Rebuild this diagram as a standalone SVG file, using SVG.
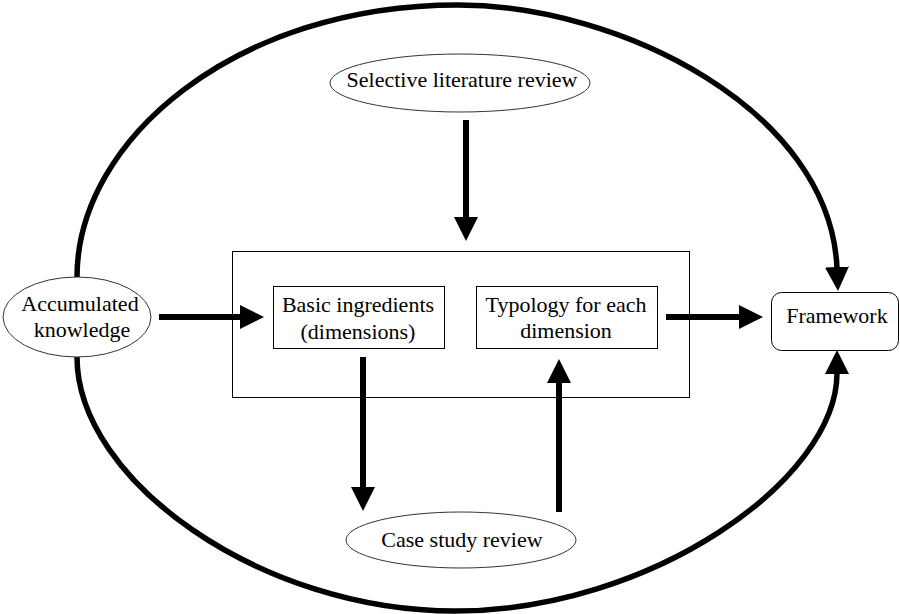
<svg xmlns="http://www.w3.org/2000/svg" width="900" height="614" viewBox="0 0 900 614">
  <style>
    text { font-family: 'Liberation Serif', 'Times New Roman', Times, serif; font-size: 22px; fill: #000; text-anchor: middle; }
    .oval { fill: #fff; stroke: #333; stroke-width: 1; }
    .box { fill: none; stroke: #000; stroke-width: 1; }
    .flow { fill: none; stroke: #000; stroke-width: 6; marker-end: url(#head); }
    .loop { fill: none; stroke: #000; stroke-width: 5.5; marker-end: url(#head); }
  </style>
  <defs>
    <marker id="head" markerUnits="userSpaceOnUse" markerWidth="24" markerHeight="24" viewBox="0 0 24 24" refX="1" refY="12" orient="auto">
      <path d="M0,0 L24,12 L0,24 z" fill="#000"/>
    </marker>
  </defs>

  <rect width="900" height="614" fill="#fff"/>

  <!-- connectors -->
  <g id="connectors">
    <!-- outer loop: knowledge feeds the framework over the top and round the bottom -->
    <path class="loop" d="M77,277 C77,140 235,5 458,5 C620,5 830,110 837,268"/>
    <path class="loop" d="M77,357 C77,480 260,611 455,611 C650,611 837,480 837,373"/>
    <path class="flow" d="M466,120 L466,218"/>
    <path class="flow" d="M159,317 L241,317"/>
    <path class="flow" d="M666,317 L740,317"/>
    <path class="flow" d="M363,357 L363,488"/>
    <path class="flow" d="M559,512 L559,382"/>
  </g>

  <!-- process container -->
  <g id="process">
    <rect class="box" x="232.5" y="251.5" width="457" height="146"/>
  </g>

  <g id="accumulated">
    <ellipse class="oval" cx="77" cy="317" rx="74" ry="40"/>
    <text x="80" y="311">Accumulated</text>
    <text x="82" y="337">knowledge</text>
  </g>

  <g id="literature">
    <ellipse class="oval" cx="460" cy="83" rx="130" ry="29"/>
    <text x="462" y="87">Selective literature review</text>
  </g>

  <g id="ingredients">
    <rect class="box" x="273.5" y="286.5" width="171" height="62"/>
    <text x="358" y="312">Basic ingredients</text>
    <text x="358" y="339">(dimensions)</text>
  </g>

  <g id="typology">
    <rect class="box" x="476.5" y="286.5" width="181" height="62"/>
    <text x="566" y="312">Typology for each</text>
    <text x="566" y="338">dimension</text>
  </g>

  <g id="framework">
    <rect class="box" x="771.5" y="292.5" width="127" height="58" rx="10" ry="10" style="fill:#fff"/>
    <text x="837" y="323">Framework</text>
  </g>

  <g id="casestudy">
    <ellipse class="oval" cx="461" cy="540" rx="115" ry="28"/>
    <text x="462" y="547">Case study review</text>
  </g>
</svg>
